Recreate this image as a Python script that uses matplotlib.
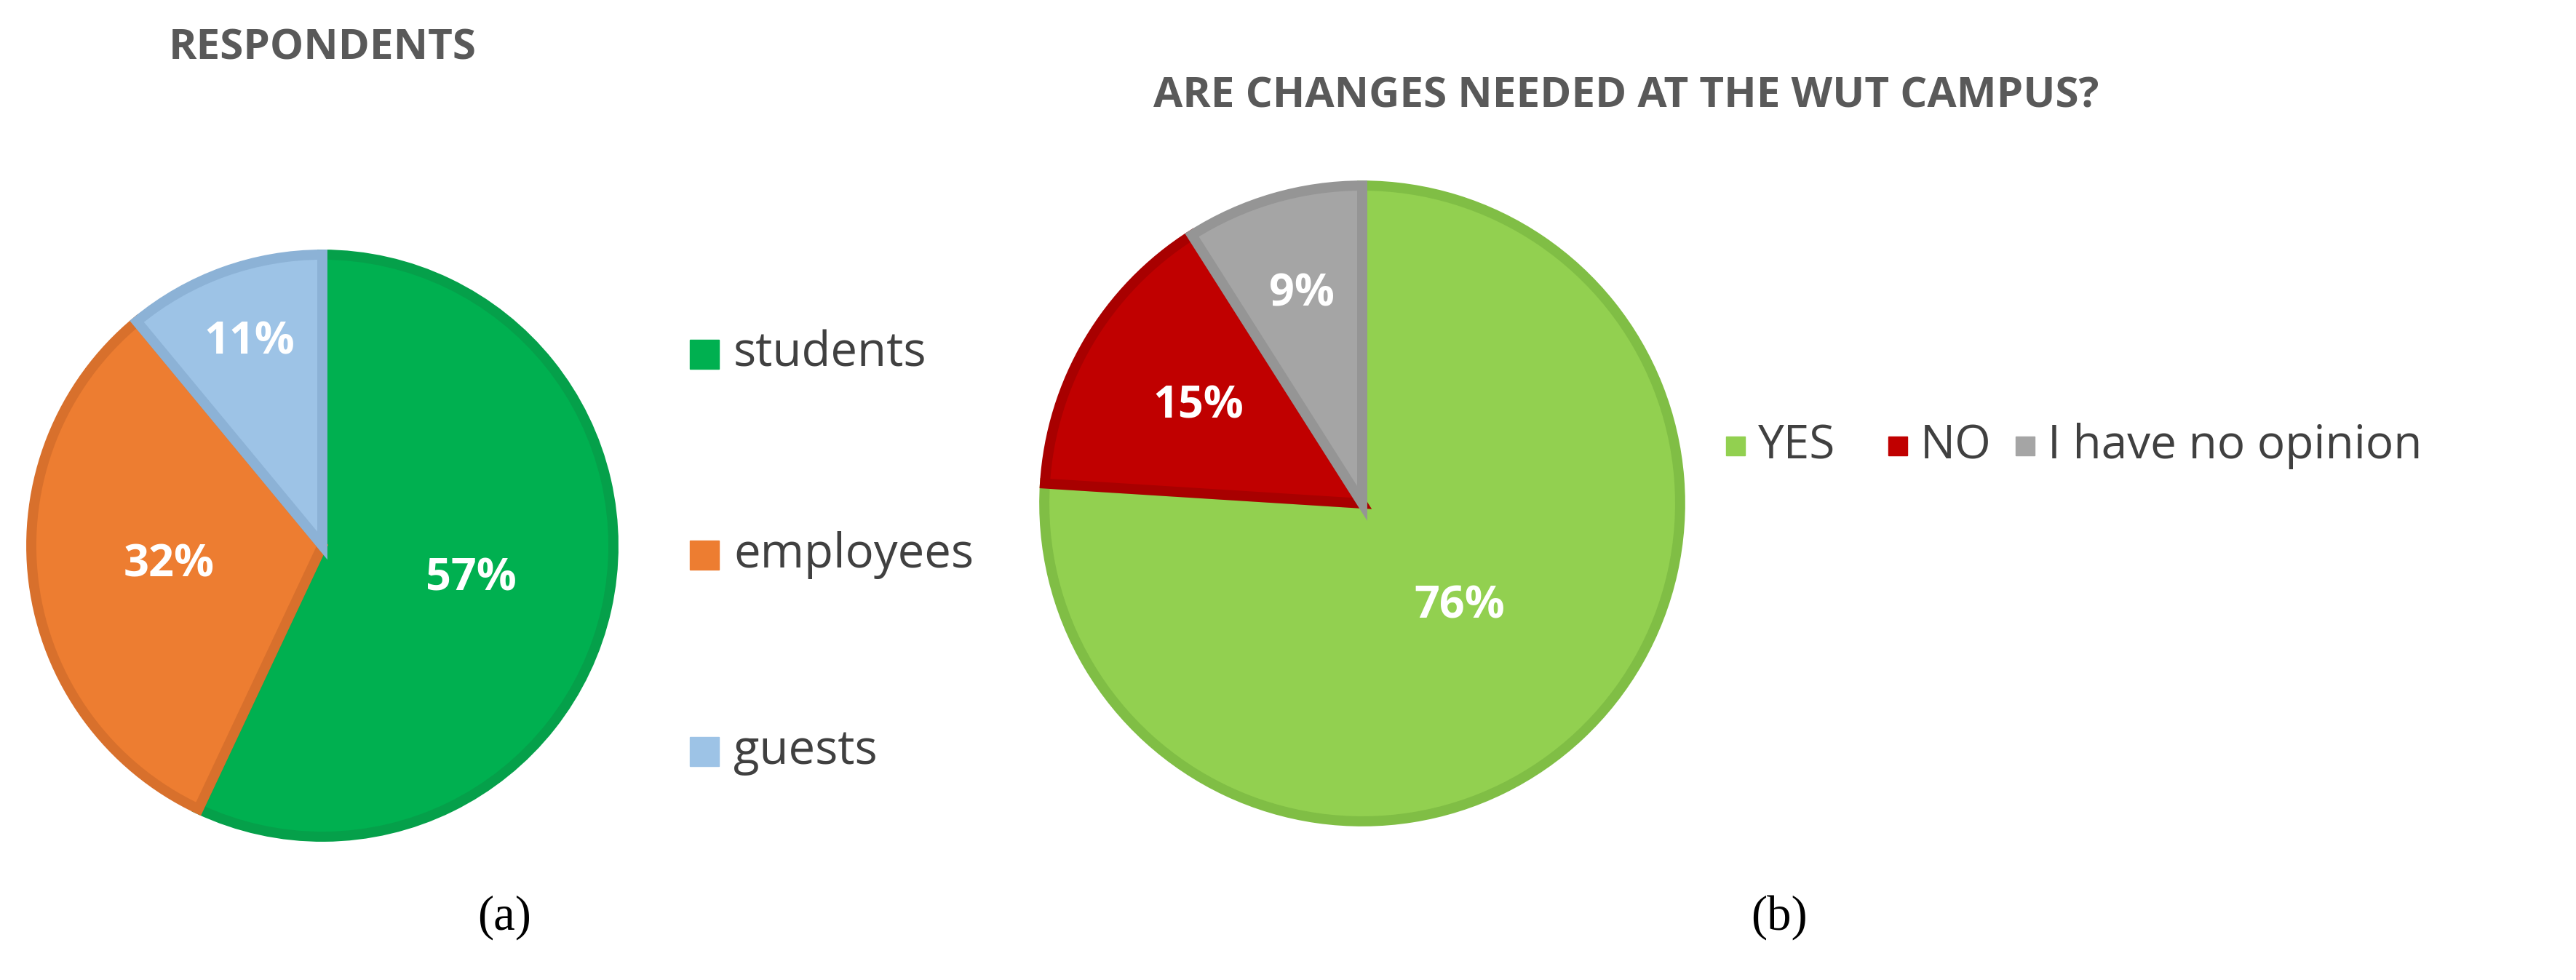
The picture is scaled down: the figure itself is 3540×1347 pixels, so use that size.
import matplotlib
matplotlib.use("Agg")
import matplotlib.pyplot as plt
import numpy as np

W, H = 3541, 1347
left_labels = ["students", "employees", "guests"]
left_values = [57, 32, 11]
left_colors = ["#00B050", "#ED7D31", "#9DC3E6"]
left_edges = ["#05A04A", "#D8702C", "#8CB2D6"]
left_dist = [0.55, 0.56, 0.78]

right_labels = ["YES", "NO", "I have no opinion"]
right_values = [76, 15, 9]
right_colors = ["#92D050", "#C00000", "#A5A5A5"]
right_edges = ["#80BE45", "#A80000", "#959595"]
right_dist = [0.47, 0.63, 0.72]

plt.rcParams['font.family'] = ['Open Sans', 'DejaVu Sans']
fig = plt.figure(figsize=(W/100, H/100), dpi=100)

def pie_axes(cx, cy, r):
    return fig.add_axes([(cx-r)/W, 1-(cy+r)/H, 2*r/W, 2*r/H])

def draw(ax, vals, cols, edges, dists):
    wedges, _ = ax.pie(vals, colors=cols, startangle=90, counterclock=False,
                       wedgeprops=dict(linewidth=10))
    for w, e, v, d in zip(wedges, edges, vals, dists):
        w.set_edgecolor(e)
        w.set_joinstyle('miter')
        a = np.deg2rad((w.theta1 + w.theta2)/2)
        ax.text(d*0.95*np.cos(a), d*0.95*np.sin(a), f"{v}%", color="white",
                fontsize=44, fontweight="bold", ha="center", va="center")
    ax.set_aspect("equal")
    ax.set_xlim(-1.03, 1.03); ax.set_ylim(-1.03, 1.03)
    ax.axis("off")

axl = pie_axes(443, 750, 412)
draw(axl, left_values, left_colors, left_edges, left_dist)
axr = pie_axes(1872, 692, 450)
draw(axr, right_values, right_colors, right_edges, right_dist)

fig.text(443/W, 1-66/H, "RESPONDENTS", fontsize=42, fontweight="bold",
         color="#595959", ha="center", va="center")
fig.text(2235/W, 1-133/H, "ARE CHANGES NEEDED AT THE WUT CAMPUS?", fontsize=42,
         fontweight="bold", color="#595959", ha="center", va="center")

for lab, c, y in zip(left_labels, left_colors, [487, 763, 1033]):
    fig.patches.append(plt.Rectangle((948/W, 1-(y+20)/H), 40/W, 40/H,
                       transform=fig.transFigure, facecolor=c, edgecolor=c))
    fig.text(1008/W, 1-y/H, lab, fontsize=47, color="#404040", va="center")

for lab, c, x in zip(right_labels, right_colors, [2372, 2595, 2770]):
    fig.patches.append(plt.Rectangle((x/W, 1-(613+13)/H), 26/W, 26/H,
                       transform=fig.transFigure, facecolor=c, edgecolor=c))
    fig.text((x+44)/W, 1-613/H, lab, fontsize=46, color="#404040", va="center")

for s, x in [("a", 693), ("b", 2445)]:
    fig.text(x/W, 1-1261/H, f"({s})", fontsize=48, family="Liberation Serif",
             ha="center", va="center")
fig.savefig("out.png", dpi=100, facecolor="white")
